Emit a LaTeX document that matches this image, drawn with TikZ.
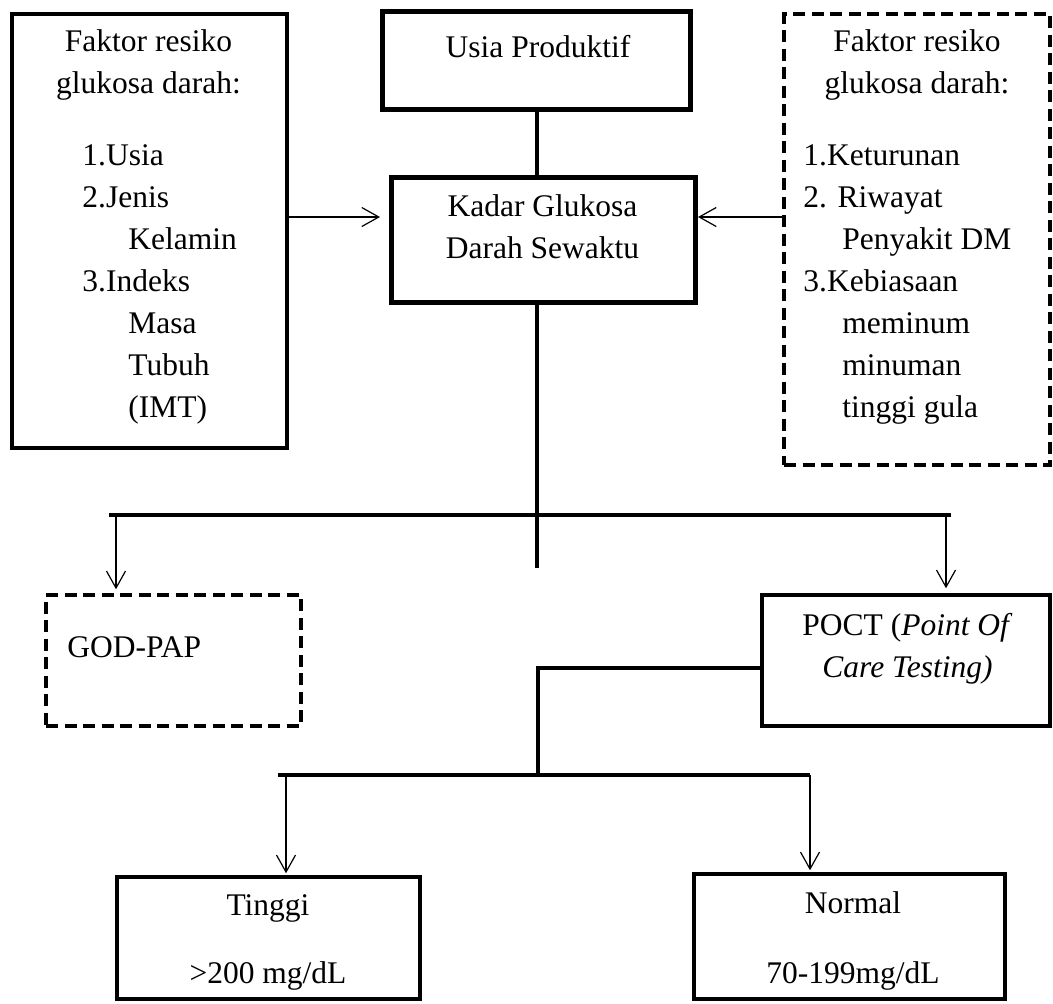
\documentclass[tikz,border=0pt]{standalone}
\usepackage{fontspec}
\setmainfont{Liberation Serif}
\usetikzlibrary{arrows.meta}
\tikzset{
  every node/.style={font=\fontsize{15.75}{21}\selectfont, inner sep=0pt},
  box/.style={draw=black, rectangle, line width=1.75pt},
  dbox/.style={box, dash pattern=on 6pt off 3.25pt},
  bar/.style={black, line width=2pt},
  arr/.style={black, line width=0.6pt, -{Straight Barb[length=8.5pt,width=9.5pt]}},
}
\begin{document}
\begin{tikzpicture}[x=0.5pt,y=-0.5pt]
\useasboundingbox (0,0) rectangle (1053,1003);

%boxes
\node[box, line width=2pt, minimum width=137.5pt, minimum height=217pt] (faktorL) at (149.5,231) {};
\node[box, line width=2.5pt, minimum width=154pt, minimum height=49pt] (usia) at (536.5,60.5) {};
\node[box, line width=2.5pt, minimum width=152pt, minimum height=62.5pt] (kadar) at (543.5,240) {};
\node[dbox, minimum width=133pt, minimum height=225.5pt] (faktorR) at (917,239.5) {};
\node[dbox, minimum width=127.5pt, minimum height=65.5pt] (godpap) at (173.5,660.5) {};
\node[box, minimum width=144pt, minimum height=65.5pt] (poct) at (906,660.5) {};
\node[box, minimum width=151.5pt, minimum height=61pt] (tinggi) at (268.5,938) {};
\node[box, minimum width=155.5pt, minimum height=62.5pt] (normal) at (849.5,936.5) {};

%texts (base = last line)
\node[anchor=base, align=center] (faktorLhead) at (148.5,93) {Faktor resiko\\glukosa darah:};
\node[anchor=base west, align=left] (faktorLlist) at (82,417) {1.Usia\\2.Jenis\\\hspace*{23pt}Kelamin\\3.Indeks\\\hspace*{23pt}Masa\\\hspace*{23pt}Tubuh\\\hspace*{23pt}(IMT)};
\node[anchor=base, align=center] (faktorRhead) at (917,93) {Faktor resiko\\glukosa darah:};
\node[anchor=base west, align=left] (faktorRlist) at (803,417) {1.Keturunan\\2. Riwayat\\\hspace*{19.5pt}Penyakit DM\\3.Kebiasaan\\\hspace*{19.5pt}meminum\\\hspace*{19.5pt}minuman\\\hspace*{19.5pt}tinggi gula};
\node[anchor=base] (usiaT) at (538,57) {Usia Produktif};
\node[anchor=base, align=center] (kadarT) at (542.5,258) {Kadar Glukosa\\Darah Sewaktu};
\node[anchor=base west] (godpapT) at (67,657) {GOD-PAP};
\node[anchor=base, align=center] (poctT) at (907.5,677) {POCT (\textit{Point Of}\\\textit{Care Testing)}};
\node[anchor=base] (tinggiT) at (268,915) {Tinggi};
\node[anchor=base] (tinggiV) at (268,983) {>200 mg/dL};
\node[anchor=base] (normalT) at (853,913) {Normal};
\node[anchor=base] (normalV) at (853,983) {70-199mg/dL};

%usia--kadar
\draw[bar] (usia.south) -- (usia.south |- kadar.north);

%faktor->kadar
\coordinate (kin) at ([yshift=11.5pt]kadar.west);
\draw[arr, shorten >=4.5pt] (kin -| faktorL.east) -- (kin);
\draw[arr] (kin -| faktorR.west) -- (kin -| kadar.east);

%kadar->godpap, poct
\coordinate (hub) at (537,568);
\coordinate (brL) at (109,515);
\coordinate (brR) at (951,515);
\coordinate (gA) at (116,515);
\coordinate (pA) at (946,515);
\draw[bar] (kadar.south -| hub) -- (hub);
\draw[bar] (brL) -- (brR);
\draw[arr, shorten >=2pt] (gA) -- (gA |- godpap.north);
\draw[arr, shorten >=2.5pt] (pA) -- (pA |- poct.north);

%poct->tinggi, normal
\coordinate (pj) at (538,668);
\coordinate (br2) at (538,775);
\coordinate (bL) at (278,775);
\coordinate (bR) at (810,775);
\coordinate (tA) at (286,775);
\coordinate (nA) at (810,775);
\draw[bar] (poct.west |- pj) -- (pj) -- (br2);
\draw[bar] (bL) -- (bR);
\draw[arr, shorten >=1pt] (tA) -- (tA |- tinggi.north);
\draw[arr, shorten >=1pt] (nA) -- (nA |- normal.north);

\end{tikzpicture}
\end{document}
